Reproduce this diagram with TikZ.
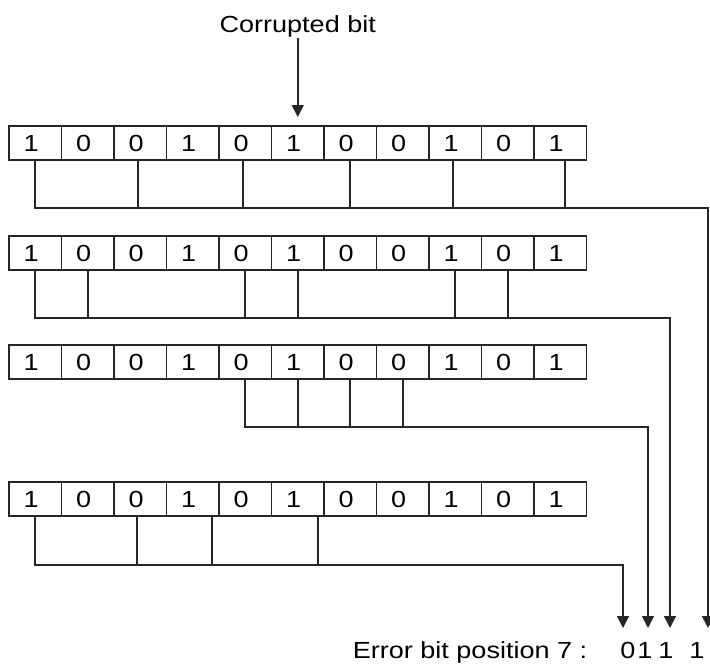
\documentclass[tikz,border=0pt]{standalone}
\usepackage{fontspec}
\setmainfont{Liberation Sans}[FakeStretch=1.16]
\usetikzlibrary{arrows.meta,calc}
\begin{document}
\begin{tikzpicture}[x=1pt,y=-1pt,
  line width=1.6pt,
  cell/.style={draw=black!85, minimum width=52.5pt, minimum height=34pt, inner sep=0pt, outer sep=0pt, font=\fontsize{23.3}{28}\selectfont},
  wire/.style={draw=black!85, line width=1.6pt},
  tip/.style={-{Triangle[width=12pt,length=12pt]}},
  lbl/.style={inner sep=0pt, font=\fontsize{23.3}{28}\selectfont}]
\useasboundingbox (0,0) rectangle (710,664);
\def\bits{1,0,0,1,0,1,0,0,1,0,1}
\foreach \r/\yt in {1/126,2/236,3/345,4/482}{
  \foreach \b [count=\i] in \bits {
    \node[cell] (r\r c\i) at ({9+52.5*(\i-0.5)},{\yt+17}) {\hspace*{-8pt}\b};
  }
}
% Corrupted bit
\node[lbl, anchor=base] (corr) at (297.75,32) {Corrupted bit};
\draw[wire,tip,shorten >=9pt] (corr.south) -- (r1c6.north);
% horizontal levels and arrow tips
\coordinate (h1) at (708,208);  \coordinate (a1) at (708,628);
\coordinate (h2) at (670,318);  \coordinate (a2) at (670,628);
\coordinate (h3) at (648,427);  \coordinate (a3) at (648,628);
\coordinate (h4) at (623,565);  \coordinate (a4) at (623,628);
% row 1: cells 1,3,5,7,9,11
\draw[wire,tip] (r1c1.south) |- (h1) -- (a1);
\foreach \c/\dx in {3/-2,5/-2,7/0,9/-2,11/5} \draw[wire] ($(r1c\c.south)+(\dx,0)$) -- ($(r1c\c.south |- h1)+(\dx,0)$);
% row 2: cells 1,2,5,6,9,10
\draw[wire,tip] (r2c1.south) |- (h2) -- (a2);
\foreach \c in {2,5,6,9,10} \draw[wire] (r2c\c.south) -- (r2c\c.south |- h2);
% row 3: cells 5,6,7,8
\draw[wire,tip] (r3c5.south) |- (h3) -- (a3);
\foreach \c in {6,7,8} \draw[wire] (r3c\c.south) -- (r3c\c.south |- h3);
% row 4: cells 1,3,4,6
\draw[wire,tip] (r4c1.south) |- (h4) -- (a4);
\foreach \c/\dx in {3/-3,4/19,6/20} \draw[wire] ($(r4c\c.south)+(\dx,0)$) -- ($(r4c\c.south |- h4)+(\dx,0)$);
% result text
\node[lbl, anchor=base east] (err) at (588,658) {Error bit position 7 :};
\node[lbl, anchor=base] (d1) at (628,658) {0};
\node[lbl, anchor=base] (d2) at (645,658) {1};
\node[lbl, anchor=base] (d3) at (666,658) {1};
\node[lbl, anchor=base] (d4) at (697,658) {1};
\end{tikzpicture}
\end{document}
